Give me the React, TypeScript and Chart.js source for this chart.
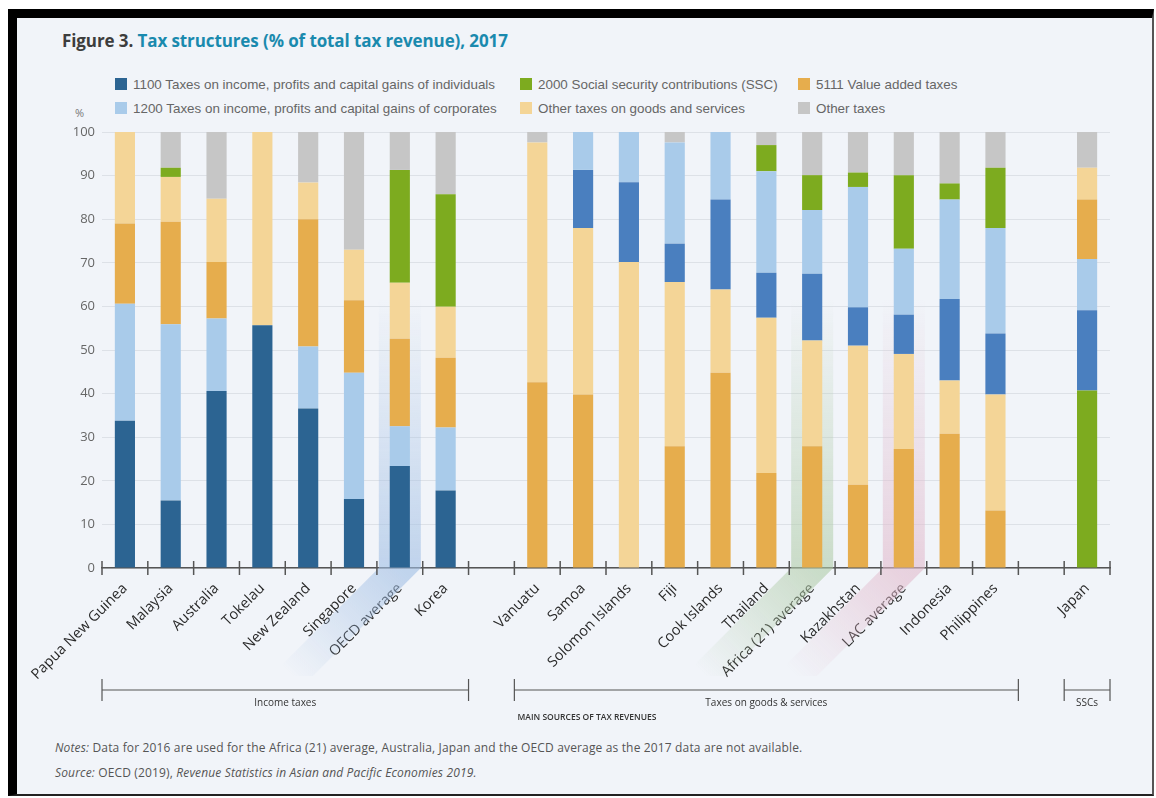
import React, { useEffect, useRef } from "react";
import { Chart, registerables } from "chart.js";

Chart.register(...registerables);

// ---------- DATA ----------
const incomeCountries = ["Papua New Guinea", "Malaysia", "Australia", "Tokelau", "New Zealand", "Singapore", "OECD average", "Korea"];
const goodsCountries = ["Vanuatu", "Samoa", "Solomon Islands", "Fiji", "Cook Islands", "Thailand", "Africa (21) average", "Kazakhstan", "LAC average", "Indonesia", "Philippines"];
const sscCountries = ["Japan"];

// Income-tax group (stack: individuals, corporates, VAT, other goods, SSC, other)
const incInd = [33.8, 15.5, 40.6, 55.7, 36.6, 15.8, 23.4, 17.8];
const incCorp = [26.8, 40.4, 16.6, 0, 14.2, 29.0, 9.1, 14.4];
const incVat = [18.4, 23.5, 13.0, 0, 29.2, 16.6, 20.1, 16.0];
const incOthGoods = [21.0, 10.3, 14.5, 44.3, 8.4, 11.6, 12.8, 11.7];
const incSsc = [0, 2.1, 0, 0, 0, 0, 25.9, 25.8];
const incOther = [0, 8.2, 15.3, 0, 11.6, 27.0, 8.7, 14.3];

// Goods & services group (stack: VAT, other goods, individuals, corporates, SSC, other)
const gsVat = [42.6, 39.8, 0, 27.9, 44.8, 21.8, 27.9, 19.1, 27.3, 30.8, 13.2];
const gsOthGoods = [55.0, 38.2, 70.2, 37.7, 19.1, 35.6, 24.3, 31.9, 21.8, 12.2, 26.6];
const gsInd = [0, 13.3, 18.3, 8.8, 20.6, 10.3, 15.3, 8.8, 9.0, 18.7, 14.0];
const gsCorp = [0, 8.7, 11.5, 23.2, 15.5, 23.3, 14.6, 27.6, 15.1, 22.8, 24.2];
const gsSsc = [0, 0, 0, 0, 0, 6.0, 8.0, 3.3, 16.9, 3.7, 13.8];
const gsOther = [2.4, 0, 0, 2.4, 0, 3.0, 9.9, 9.3, 9.9, 11.8, 8.2];

// SSC group (stack: SSC, individuals, corporates, VAT, other goods, other)
const sscSsc = [40.7];
const sscInd = [18.4];
const sscCorp = [11.8];
const sscVat = [13.6];
const sscOthGoods = [7.3];
const sscOther = [8.2];

const yTicks = [0, 10, 20, 30, 40, 50, 60, 70, 80, 90, 100];

const legendItems = [
  { label: "1100 Taxes on income, profits and capital gains of individuals", color: "#2c6492" },
  { label: "2000 Social security contributions (SSC)", color: "#7dab1f" },
  { label: "5111 Value added taxes", color: "#e6ad4d" },
  { label: "1200 Taxes on income, profits and capital gains of corporates", color: "#a9cbea" },
  { label: "Other taxes on goods and services", color: "#f4d597" },
  { label: "Other taxes", color: "#c6c6c6" },
];

const groupLabels = ["Income taxes", "Taxes on goods & services", "SSCs"];
const highlighted = [
  { name: "OECD average", color: [160, 190, 228] },
  { name: "Africa (21) average", color: [176, 204, 168] },
  { name: "LAC average", color: [226, 186, 204] },
];

// ---------- COLORS ----------
const C = {
  ind: "#2c6492",
  indMid: "#4a7fbf",
  corp: "#a9cbea",
  ssc: "#7dab1f",
  vat: "#e6ad4d",
  oth: "#f4d597",
  other: "#c6c6c6",
};

const categories = [...incomeCountries, "", ...goodsCountries, "", ...sscCountries];
const N = categories.length;
const incStart = 0;
const gsStart = incomeCountries.length + 1;
const sscStart = gsStart + goodsCountries.length + 1;

function pad(start: number, vals: number[]) {
  const arr: (number | null)[] = new Array(N).fill(null);
  vals.forEach((v, i) => (arr[start + i] = v));
  return arr;
}

const bandPlugin = {
  id: "bands",
  beforeDatasetsDraw(chart: any) {
    const { ctx, chartArea, scales } = chart;
    const xs = scales.x;
    const ys = scales.y;
    const y0 = chartArea.bottom;
    highlighted.forEach((h) => {
      const idx = categories.indexOf(h.name);
      const cx = xs.getPixelForValue(idx);
      const hw = 21;
      const [r, g, b] = h.color;
      const topY = ys.getPixelForValue(62);
      ctx.save();
      const gv = ctx.createLinearGradient(0, topY, 0, y0);
      gv.addColorStop(0, `rgba(${r},${g},${b},0)`);
      gv.addColorStop(1, `rgba(${r},${g},${b},0.6)`);
      ctx.fillStyle = gv;
      ctx.fillRect(cx - hw, topY, hw * 2, y0 - topY);
      const L = 108;
      const gd = ctx.createLinearGradient(cx, y0, cx - L, y0 + L);
      gd.addColorStop(0, `rgba(${r},${g},${b},0.6)`);
      gd.addColorStop(1, `rgba(${r},${g},${b},0)`);
      ctx.fillStyle = gd;
      ctx.beginPath();
      ctx.moveTo(cx - hw, y0);
      ctx.lineTo(cx + hw, y0);
      ctx.lineTo(cx + hw - L, y0 + L);
      ctx.lineTo(cx - hw - L, y0 + L);
      ctx.closePath();
      ctx.fill();
      ctx.restore();
    });
  },
};

const axisPlugin = {
  id: "axisExtras",
  afterDraw(chart: any) {
    const { ctx, chartArea, scales } = chart;
    const xs = scales.x;
    const y0 = chartArea.bottom;
    ctx.save();
    ctx.strokeStyle = "#555";
    ctx.lineWidth = 1.5;
    // tick marks crossing the axis at category boundaries
    for (let i = 0; i <= N; i++) {
      const x = xs.getPixelForValue(i - 0.5);
      ctx.beginPath();
      ctx.moveTo(x, y0 - 7);
      ctx.lineTo(x, y0 + 7);
      ctx.stroke();
    }
    // group brackets
    const groups = [
      [incStart, incStart + incomeCountries.length - 1],
      [gsStart, gsStart + goodsCountries.length - 1],
      [sscStart, sscStart + sscCountries.length - 1],
    ];
    const by = y0 + 122;
    ctx.lineWidth = 1.2;
    ctx.fillStyle = "#333";
    ctx.font = "10px 'Open Sans'";
    ctx.textAlign = "center";
    ctx.textBaseline = "middle";
    groups.forEach(([a, b], gi) => {
      const x1 = xs.getPixelForValue(a - 0.5);
      const x2 = xs.getPixelForValue(b + 0.5);
      ctx.beginPath();
      ctx.moveTo(x1, by);
      ctx.lineTo(x2, by);
      ctx.moveTo(x1, by - 11);
      ctx.lineTo(x1, by + 11);
      ctx.moveTo(x2, by - 11);
      ctx.lineTo(x2, by + 11);
      ctx.stroke();
      ctx.fillText(groupLabels[gi], (x1 + x2) / 2, by + 13);
    });
    ctx.font = "600 8.5px 'Open Sans'";
    ctx.fillText("MAIN SOURCES OF TAX REVENUES", 567, by + 28);
    ctx.restore();
  },
};

export default function App() {
  const ref = useRef<HTMLCanvasElement | null>(null);

  useEffect(() => {
    if (!ref.current) return;
    const mk = (label: string, start: number, vals: number[], color: string) => ({
      label,
      data: pad(start, vals),
      backgroundColor: color,
      stack: "s",
      categoryPercentage: 1,
      barPercentage: 0.44,
    });
    const datasets = [
      mk("ind", incStart, incInd, C.ind),
      mk("corp", incStart, incCorp, C.corp),
      mk("vat", incStart, incVat, C.vat),
      mk("oth", incStart, incOthGoods, C.oth),
      mk("ssc", incStart, incSsc, C.ssc),
      mk("other", incStart, incOther, C.other),
      mk("vat", gsStart, gsVat, C.vat),
      mk("oth", gsStart, gsOthGoods, C.oth),
      mk("ind", gsStart, gsInd, C.indMid),
      mk("corp", gsStart, gsCorp, C.corp),
      mk("ssc", gsStart, gsSsc, C.ssc),
      mk("other", gsStart, gsOther, C.other),
      mk("ssc", sscStart, sscSsc, C.ssc),
      mk("ind", sscStart, sscInd, C.indMid),
      mk("corp", sscStart, sscCorp, C.corp),
      mk("vat", sscStart, sscVat, C.vat),
      mk("oth", sscStart, sscOthGoods, C.oth),
      mk("other", sscStart, sscOther, C.other),
    ];
    const chart = new Chart(ref.current, {
      type: "bar",
      data: { labels: categories, datasets },
      options: {
        animation: false,
        responsive: false,
        maintainAspectRatio: false,
        layout: { padding: { top: 32, right: 30, left: 0, bottom: 0 } },
        plugins: { legend: { display: false }, tooltip: { enabled: false } },
        scales: {
          x: {
            type: "category",
            stacked: true,
            offset: true,
            grid: { display: false },
            border: { display: true, color: "#555", width: 1.5 },
            ticks: {
              autoSkip: false,
              maxRotation: 45,
              minRotation: 45,
              padding: 4,
              color: "#2a2a2a",
              font: { family: "'Open Sans'", size: 14.5 },
            },
            afterFit(scale: any) {
              scale.height = 162;
            },
          },
          y: {
            stacked: true,
            min: 0,
            max: 100,
            afterBuildTicks(scale: any) {
              scale.ticks = yTicks.map((v) => ({ value: v }));
            },
            grid: { color: "#dde1e7", drawTicks: false, lineWidth: 1 },
            border: { display: false },
            ticks: {
              padding: 7,
              color: "#666",
              font: { family: "'Open Sans'", size: 13 },
            },
            afterFit(scale: any) {
              scale.width = 82;
            },
          },
        },
      } as any,
      plugins: [bandPlugin, axisPlugin],
    });
    return () => chart.destroy();
  }, []);

  const colLeft = [115, 520, 798];
  const rowTop = [77, 101];

  return (
    <div style={{ position: "fixed", left: 0, top: 0, width: 1156, height: 798, background: "#fff", overflow: "hidden" }}>
      <div
        style={{
          position: "absolute",
          left: 8,
          top: 9,
          width: 1146,
          height: 787,
          boxSizing: "border-box",
          borderTop: "9px solid #000",
          borderLeft: "9px solid #000",
          borderRight: "2px solid #555",
          borderBottom: "2px solid #222",
          background: "#f1f4f9",
        }}
      />
      <div
        style={{
          position: "absolute",
          left: 62,
          top: 30,
          fontFamily: "'Open Sans'",
          fontWeight: 700,
          fontSize: 17,
          lineHeight: "22px",
          letterSpacing: "-0.1px",
          whiteSpace: "nowrap",
        }}
      >
        <span style={{ color: "#3d3d3d" }}>Figure 3. </span>
        <span style={{ color: "#1a8aae" }}>Tax structures (% of total tax revenue), 2017</span>
      </div>
      {legendItems.map((it, i) => {
        const col = i % 3;
        const row = Math.floor(i / 3);
        return (
          <div
            key={i}
            style={{
              position: "absolute",
              left: colLeft[col],
              top: rowTop[row],
              height: 14,
              display: "flex",
              alignItems: "center",
              whiteSpace: "nowrap",
              fontFamily: "'Liberation Sans', Arial, sans-serif",
              fontSize: 13.4,
              color: "#666",
            }}
          >
            <span style={{ display: "inline-block", width: 12, height: 12, background: it.color, marginRight: 6 }} />
            <span>{it.label}</span>
          </div>
        );
      })}
      <div
        style={{
          position: "absolute",
          left: 75,
          top: 105,
          fontFamily: "'Open Sans'",
          fontSize: 11,
          color: "#777",
          lineHeight: "16px",
        }}
      >
        %
      </div>
      <canvas
        ref={ref}
        width={1120}
        height={630}
        style={{ position: "absolute", left: 20, top: 100, width: 1120, height: 630 }}
      />
      <div
        style={{
          position: "absolute",
          left: 55,
          top: 740,
          fontFamily: "'Open Sans'",
          fontSize: 12,
          color: "#555",
          lineHeight: "16px",
          letterSpacing: "0.15px",
          whiteSpace: "nowrap",
        }}
      >
        <i>Notes:</i> Data for 2016 are used for the Africa (21) average, Australia, Japan and the OECD average as the 2017 data are not available.
      </div>
      <div
        style={{
          position: "absolute",
          left: 55,
          top: 765,
          fontFamily: "'Open Sans'",
          fontSize: 12,
          color: "#555",
          lineHeight: "16px",
          letterSpacing: "0.15px",
          whiteSpace: "nowrap",
        }}
      >
        <i>Source:</i> OECD (2019), <i>Revenue Statistics in Asian and Pacific Economies 2019.</i>
      </div>
    </div>
  );
}
